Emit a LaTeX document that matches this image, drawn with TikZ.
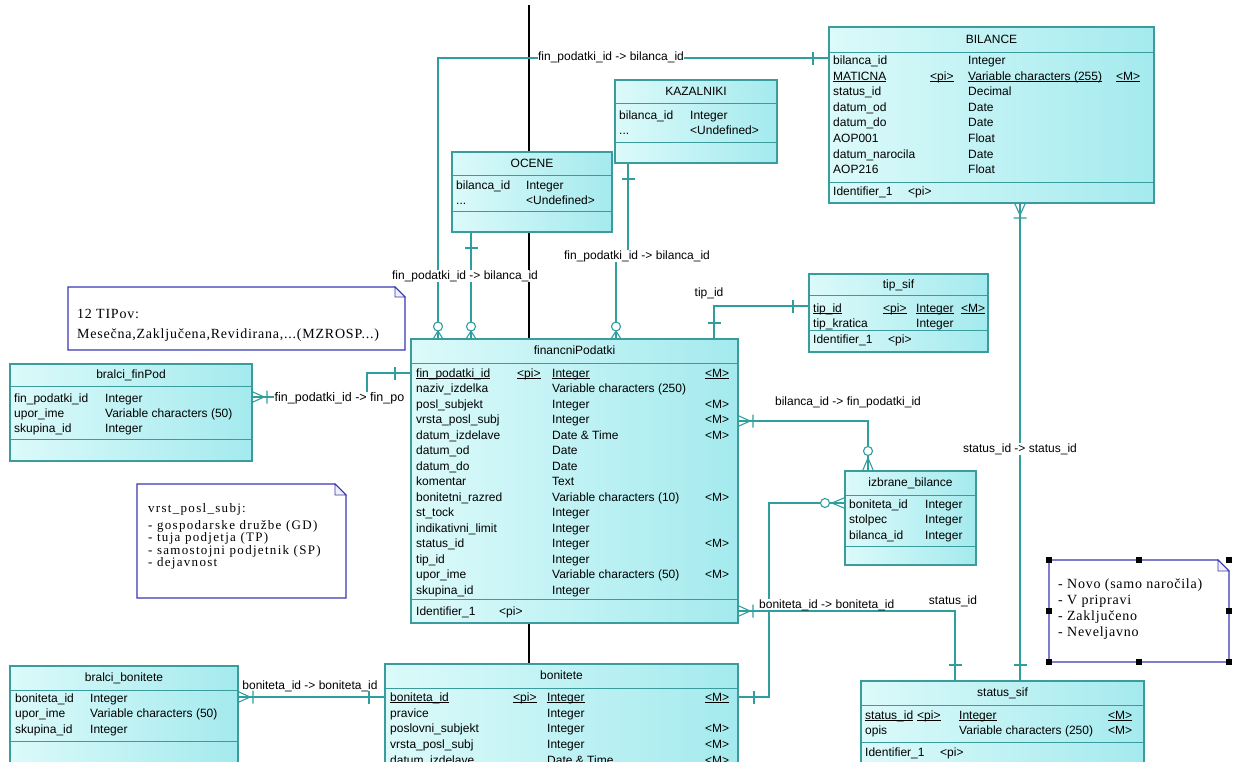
\documentclass[tikz,border=0pt]{standalone}
\usepackage{fontspec}
\setmainfont{Liberation Sans}
\newfontfamily\notefonta[LetterSpace=5.5]{Liberation Serif}
\newfontfamily\notefontb[LetterSpace=10]{Liberation Serif}
\definecolor{connC}{HTML}{2E9E9E}
\definecolor{tabB}{HTML}{3A9C9C}
\definecolor{tabL}{HTML}{DCFAFA}
\definecolor{tabR}{HTML}{A4EAEE}
\definecolor{noteB}{HTML}{3838B0}
\newsavebox\pkbox
\newcommand\pk[1]{\sbox\pkbox{#1}\rlap{\rule[-1.8pt]{\wd\pkbox}{0.8pt}}\usebox\pkbox}
\newcount\cellno
\newcommand\cell[3]{\global\advance\cellno by 1\relax
  \node[txt,anchor=base west] (cell\the\cellno) at (#1,{#2+4}) {#3};}
\newcommand\trow[5]{%
  \cell{\ca}{#1}{#2}%
  \if\relax\detokenize{#3}\relax\else\cell{\cb}{#1}{#3}\fi
  \if\relax\detokenize{#4}\relax\else\cell{\cc}{#1}{#4}\fi
  \if\relax\detokenize{#5}\relax\else\cell{\cd}{#1}{#5}\fi}
% name, x1, y1, x2, y2, header line, attribute line, title
\newcommand\ertab[8]{%
  \node[tab,anchor=north west,minimum width={#4pt-#2pt},minimum height={#5pt-#3pt}] (#1) at (#2,#3) {};
  \draw[tabrule] (#2,#6) -- (#4,#6);
  \if\relax\detokenize{#7}\relax\else\draw[tabrule] (#2,#7) -- (#4,#7);\fi
  \node[txt,anchor=base] (#1t) at ({(#2+#4)/2},{(#3+#6)/2+3.5}) {#8};}
\tikzset{
  txt/.style={font=\fontsize{12}{14}\selectfont,inner sep=0pt,text=black},
  lab/.style={txt,fill=white,inner sep=0.5pt},
  conn/.style={draw=connC,line width=1.1pt},
  depline/.style={draw=black,line width=1.2pt},
  tab/.style={draw=tabB,line width=1.1pt,left color=tabL,right color=tabR,inner sep=0pt,outer sep=0pt},
  tabrule/.style={draw=tabB,line width=1pt},
  notebox/.style={draw=noteB,line width=1.1pt,fill=white},
  notefold/.style={draw=noteB,line width=0.9pt,fill=noteB!8},
  ntxta/.style={font=\notefonta\fontsize{14}{16}\selectfont,inner sep=0pt,anchor=base west},
  ntxtb/.style={font=\notefontb\fontsize{13}{13}\selectfont,inner sep=0pt,anchor=base west},
  handle/.style={fill=black,minimum size=6pt,inner sep=0pt},
  pics/crowbar/.style={code={\draw[conn] (0,-5.5)--(12,0)--(0,5.5) (0,0)--(12,0) (15,-6.5)--(15,6.5);}},
  pics/onebar/.style={code={\draw[conn] (16,-6.5)--(16,6.5);}},
  pics/crowringL/.style={code={\draw[conn] (0,-5.5)--(13,0)--(0,5.5); \draw[conn,fill=white] (20,0) circle[radius=4.5pt];}},
  pics/crowringS/.style={code={\draw[conn] (0,-5)--(8,0)--(0,5); \draw[conn,fill=white] (12.5,0) circle[radius=4.5pt];}},
}
\begin{document}
\begin{tikzpicture}[x=1pt,y=-1pt]
\useasboundingbox (0,0) rectangle (1236,761);
\clip (0,0) rectangle (1236,761);
\fill[white] (0,0) rectangle (1236,761);

% dependency line (black)
\coordinate (blacktop) at (529,5);
\coordinate (blackbot) at (529,664);
\draw[depline] (blacktop) -- (blackbot);

% table nodes first (for connector anchors)
\ertab{bil}{829}{27}{1154}{203}{52}{182}{BILANCE}
\ertab{kaz}{615}{80}{777}{163}{103}{142}{KAZALNIKI}
\ertab{oce}{452}{152}{612}{232}{175}{211}{OCENE}
\ertab{fp}{411}{339}{738}{623}{363}{599}{financniPodatki}
\ertab{bfp}{10}{364}{252}{461}{386}{439}{bralci\_finPod}
\ertab{tip}{809}{274}{988}{352}{295}{330}{tip\_sif}
\ertab{izb}{845}{471}{976}{565}{495}{546}{izbrane\_bilance}
\ertab{bbo}{10}{666}{238}{800}{690}{741}{bralci\_bonitete}
\ertab{bon}{385}{664}{738}{800}{688}{}{bonitete}
\ertab{sts}{861}{681}{1144}{800}{705}{742}{status\_sif}

% connectors
\draw[conn] (438,0 |- fp.north) -- (438,58) -- (bil.west |- 0,58);
\draw[conn] (471,0 |- oce.south) -- (471,0 |- fp.north);
\draw[conn] (628,0 |- kaz.south) -- (628,256) -- (616,256) -- (616,0 |- fp.north);
\draw[conn] (714,0 |- fp.north) |- (tip.west |- 0,306);
\draw[conn] (fp.east |- 0,421) -| (868,0 |- izb.north);
\draw[conn] (izb.west |- 0,503) -| (769,697) -- (bon.east |- 0,697);
\draw[conn] (fp.east |- 0,611) -| (955,0 |- sts.north);
\draw[conn] (1020,0 |- bil.south) -- (1020,0 |- sts.north);
\draw[conn] (bfp.east |- 0,397) -- (367,397) |- (fp.west |- 0,373);
\draw[conn] (bbo.east |- 0,697) -- (bon.west |- 0,697);

% connector labels
\node[lab] (l1) at (611,57) {fin\_podatki\_id -> bilanca\_id};
\node[lab] (l2) at (465,276) {fin\_podatki\_id -> bilanca\_id};
\node[lab] (l3) at (637,256) {fin\_podatki\_id -> bilanca\_id};
\node[txt] (l4) at (709,293) {tip\_id};
\node[lab,anchor=west,font=\fontsize{12.5}{14}\selectfont] (l5) at (274,398) {fin\_podatki\_id -> fin\_po};
\node[txt] (l6) at (848,402) {bilanca\_id -> fin\_podatki\_id};
\node[lab,inner sep=0pt,anchor=base west] (l7) at (759,608) {boniteta\_id -> boniteta\_id};
\node[txt] (l8) at (953,601) {status\_id};
\node[lab] (l9) at (1020,449) {status\_id -> status\_id};
\node[txt] (l10) at (310,686) {boniteta\_id -> boniteta\_id};

% tables with their columns
\ertab{bil}{829}{27}{1154}{203}{52}{182}{BILANCE}
\def\ca{833}\def\cb{930}\def\cc{968}\def\cd{1116}
\trow{60}{bilanca\_id}{}{Integer}{}
\trow{76}{\pk{MATICNA}}{\pk{<pi>}}{\pk{Variable characters (255)}}{\pk{<M>}}
\trow{91}{status\_id}{}{Decimal}{}
\trow{107}{datum\_od}{}{Date}{}
\trow{122}{datum\_do}{}{Date}{}
\trow{138}{AOP001}{}{Float}{}
\trow{154}{datum\_narocila}{}{Date}{}
\trow{169}{AOP216}{}{Float}{}
\cell{833}{191}{Identifier\_1}\cell{908}{191}{<pi>}

\ertab{kaz}{615}{80}{777}{163}{103}{142}{KAZALNIKI}
\cell{619}{115}{bilanca\_id}\cell{690}{115}{Integer}
\cell{619}{130}{...}\cell{690}{130}{<Undefined>}

\ertab{oce}{452}{152}{612}{232}{175}{211}{OCENE}
\cell{456}{185}{bilanca\_id}\cell{526}{185}{Integer}
\cell{456}{200}{...}\cell{526}{200}{<Undefined>}

\ertab{fp}{411}{339}{738}{623}{363}{599}{financniPodatki}
\def\ca{416}\def\cb{517}\def\cc{552}\def\cd{705}
\trow{373}{\pk{fin\_podatki\_id}}{\pk{<pi>}}{\pk{Integer}}{\pk{<M>}}
\trow{388.5}{naziv\_izdelka}{}{Variable characters (250)}{}
\trow{404}{posl\_subjekt}{}{Integer}{<M>}
\trow{419.5}{vrsta\_posl\_subj}{}{Integer}{<M>}
\trow{435}{datum\_izdelave}{}{Date \& Time}{<M>}
\trow{450.5}{datum\_od}{}{Date}{}
\trow{466}{datum\_do}{}{Date}{}
\trow{481.5}{komentar}{}{Text}{}
\trow{497}{bonitetni\_razred}{}{Variable characters (10)}{<M>}
\trow{512.5}{st\_tock}{}{Integer}{}
\trow{528}{indikativni\_limit}{}{Integer}{}
\trow{543.5}{status\_id}{}{Integer}{<M>}
\trow{559}{tip\_id}{}{Integer}{}
\trow{574.5}{upor\_ime}{}{Variable characters (50)}{<M>}
\trow{590}{skupina\_id}{}{Integer}{}
\cell{416}{611}{Identifier\_1}\cell{499}{611}{<pi>}

\ertab{bfp}{10}{364}{252}{461}{386}{439}{bralci\_finPod}
\cell{14}{398}{fin\_podatki\_id}\cell{105}{398}{Integer}
\cell{14}{413}{upor\_ime}\cell{105}{413}{Variable characters (50)}
\cell{14}{428}{skupina\_id}\cell{105}{428}{Integer}

\ertab{tip}{809}{274}{988}{352}{295}{330}{tip\_sif}
\def\ca{813}\def\cb{883}\def\cc{916}\def\cd{961}
\trow{308}{\pk{tip\_id}}{\pk{<pi>}}{\pk{Integer}}{\pk{<M>}}
\trow{323}{tip\_kratica}{}{Integer}{}
\cell{813}{339}{Identifier\_1}\cell{888}{339}{<pi>}

\ertab{izb}{845}{471}{976}{565}{495}{546}{izbrane\_bilance}
\cell{849}{504}{boniteta\_id}\cell{925}{504}{Integer}
\cell{849}{519}{stolpec}\cell{925}{519}{Integer}
\cell{849}{535}{bilanca\_id}\cell{925}{535}{Integer}

\ertab{bbo}{10}{666}{238}{800}{690}{741}{bralci\_bonitete}
\cell{15}{698}{boniteta\_id}\cell{90}{698}{Integer}
\cell{15}{713}{upor\_ime}\cell{90}{713}{Variable characters (50)}
\cell{15}{729}{skupina\_id}\cell{90}{729}{Integer}

\ertab{bon}{385}{664}{738}{800}{688}{}{bonitete}
\def\ca{390}\def\cb{513}\def\cc{547}\def\cd{705}
\trow{697}{\pk{boniteta\_id}}{\pk{<pi>}}{\pk{Integer}}{\pk{<M>}}
\trow{713}{pravice}{}{Integer}{}
\trow{728}{poslovni\_subjekt}{}{Integer}{<M>}
\trow{744}{vrsta\_posl\_subj}{}{Integer}{<M>}
\trow{760}{datum\_izdelave}{}{Date \& Time}{<M>}

\ertab{sts}{861}{681}{1144}{800}{705}{742}{status\_sif}
\def\ca{865}\def\cb{917}\def\cc{959}\def\cd{1108}
\trow{715}{\pk{status\_id}}{\pk{<pi>}}{\pk{Integer}}{\pk{<M>}}
\trow{730}{opis}{}{Variable characters (250)}{<M>}
\cell{865}{752}{Identifier\_1}\cell{940}{752}{<pi>}

% connector end symbols
\pic[rotate=90] at (438,0 |- fp.north) {crowringS};
\pic[rotate=180] at (bil.west |- 0,58) {onebar};
\pic[rotate=-90] at (471,0 |- oce.south) {onebar};
\pic[rotate=90] at (471,0 |- fp.north) {crowringS};
\pic[rotate=-90] at (628,0 |- kaz.south) {onebar};
\pic[rotate=90] at (616,0 |- fp.north) {crowringS};
\pic[rotate=90] at (714,0 |- fp.north) {onebar};
\pic[rotate=180] at (tip.west |- 0,306) {onebar};
\pic at (fp.east |- 0,421) {crowbar};
\pic[rotate=90] at (868,0 |- izb.north) {crowringL};
\pic[rotate=180] at (izb.west |- 0,503) {crowringL};
\pic at (bon.east |- 0,697) {onebar};
\pic at (fp.east |- 0,611) {crowbar};
\pic[rotate=90] at (955,0 |- sts.north) {onebar};
\pic[rotate=-90] at (1020,0 |- bil.south) {crowbar};
\pic[rotate=90] at (1020,0 |- sts.north) {onebar};
\pic at (bfp.east |- 0,397) {crowbar};
\pic[rotate=180] at (fp.west |- 0,373) {onebar};
\pic at (bbo.east |- 0,697) {crowbar};
\pic[rotate=180] at (bon.west |- 0,697) {onebar};

% notes
\draw[notebox] (68,287) -- (395,287) -- (405,297) -- (405,350) -- (68,350) -- cycle;
\draw[notefold] (395,287) -- (395,297) -- (405,297) -- cycle;
\node[ntxta] (n1a) at (77,318) {12 TIPov:};
\node[ntxta] (n1b) at (77,338) {Mesečna,Zaključena,Revidirana,...(MZROSP...)};

\draw[notebox] (137,484) -- (335,484) -- (346,495) -- (346,598) -- (137,598) -- cycle;
\draw[notefold] (335,484) -- (335,495) -- (346,495) -- cycle;
\node[ntxtb] (n2a) at (148,512) {vrst\_posl\_subj:};
\node[ntxtb] (n2b) at (148,529) {- gospodarske družbe (GD)};
\node[ntxtb] (n2c) at (148,541.5) {- tuja podjetja (TP)};
\node[ntxtb] (n2d) at (148,554) {- samostojni podjetnik (SP)};
\node[ntxtb] (n2e) at (148,566.5) {- dejavnost};

\draw[notebox] (1049,560) -- (1218,560) -- (1229,571) -- (1229,662) -- (1049,662) -- cycle;
\draw[notefold] (1218,560) -- (1218,571) -- (1229,571) -- cycle;
\node[ntxta] (n3a) at (1058,588) {- Novo (samo naročila)};
\node[ntxta] (n3b) at (1058,604) {- V pripravi};
\node[ntxta] (n3c) at (1058,620) {- Zaključeno};
\node[ntxta] (n3d) at (1058,636) {- Neveljavno};
\node[handle] (h1) at (1049,560) {};
\node[handle] (h2) at (1139,560) {};
\node[handle] (h3) at (1229,560) {};
\node[handle] (h4) at (1049,611) {};
\node[handle] (h5) at (1229,611) {};
\node[handle] (h6) at (1049,662) {};
\node[handle] (h7) at (1139,662) {};
\node[handle] (h8) at (1229,662) {};
\end{tikzpicture}
\end{document}
